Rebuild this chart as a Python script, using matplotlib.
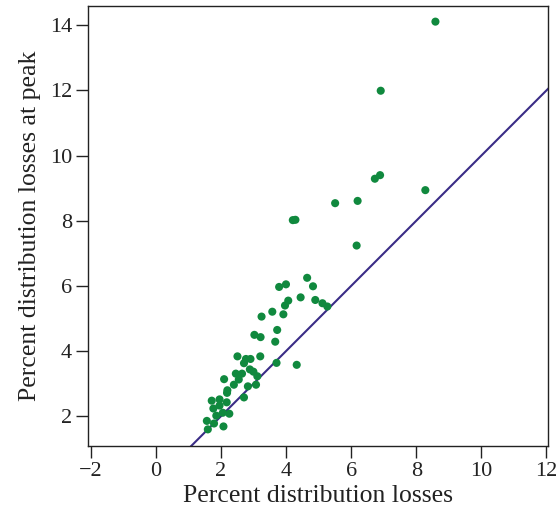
import matplotlib
matplotlib.use("Agg")
import matplotlib.pyplot as plt
import numpy as np

x_vals = [8.59, 6.91, 6.89, 6.73, 8.28, 5.51, 6.20, 4.21, 4.29, 6.17,
          4.65, 3.79, 4.00, 4.83, 4.45, 4.07, 3.97, 4.90, 5.12, 5.27,
          3.58, 3.25, 3.92, 3.73, 3.03, 3.22, 3.67, 2.51, 2.77, 2.91,
          3.21, 2.71, 3.71, 4.33, 2.10, 2.46, 2.65, 2.89, 3.00, 3.12,
          2.55, 2.40, 2.83, 3.08, 2.20, 2.19, 2.71, 1.72, 1.96, 1.77,
          1.96, 2.18, 1.86, 2.06, 2.26, 1.57, 1.79, 2.08, 1.60]
y_vals = [14.11, 11.99, 9.40, 9.29, 8.94, 8.54, 8.61, 8.02, 8.03, 7.24,
          6.25, 5.97, 6.05, 5.99, 5.65, 5.55, 5.40, 5.57, 5.47, 5.37,
          5.21, 5.06, 5.13, 4.65, 4.50, 4.43, 4.29, 3.84, 3.76, 3.76,
          3.84, 3.63, 3.64, 3.58, 3.14, 3.31, 3.31, 3.44, 3.37, 3.23,
          3.13, 2.97, 2.92, 2.97, 2.80, 2.72, 2.58, 2.48, 2.52, 2.24,
          2.33, 2.43, 2.02, 2.11, 2.08, 1.86, 1.78, 1.69, 1.60]

x_ticks = [-2, 0, 2, 4, 6, 8, 10, 12]
y_ticks = [2, 4, 6, 8, 10, 12, 14]
x_tick_labels = ["\u22122", "0", "2", "4", "6", "8", "10", "12"]

plt.rcParams['font.family'] = ['Liberation Serif', 'DejaVu Serif']

fig = plt.figure(figsize=(5.57, 5.15), dpi=100)
ax = fig.add_axes([0.158, 0.134, 0.826, 0.855])

ax.axline((0, 0), slope=1, color='#3a2c86', lw=1.5, zorder=2)
ax.scatter(x_vals, y_vals, s=34, color='#10893e', edgecolors='none', zorder=3)

ax.set_xlim(-2.08, 12.05)
ax.set_ylim(1.09, 14.6)
ax.set_xticks(x_ticks)
ax.set_xticklabels(x_tick_labels)
ax.set_yticks(y_ticks)
ax.tick_params(direction='out', length=8.5, width=1, labelsize=16, colors='#222222')
ax.tick_params(axis='x', pad=3)
ax.tick_params(axis='y', pad=3)
for sp in ax.spines.values():
    sp.set_linewidth(1.0)
    sp.set_color('#222222')

ax.set_xlabel("Percent distribution losses", fontsize=18.5, color='#222222', labelpad=3)
ax.set_ylabel("Percent distribution losses at peak", fontsize=18.5, color='#222222', labelpad=6)

fig.savefig("out.png", dpi=100)
